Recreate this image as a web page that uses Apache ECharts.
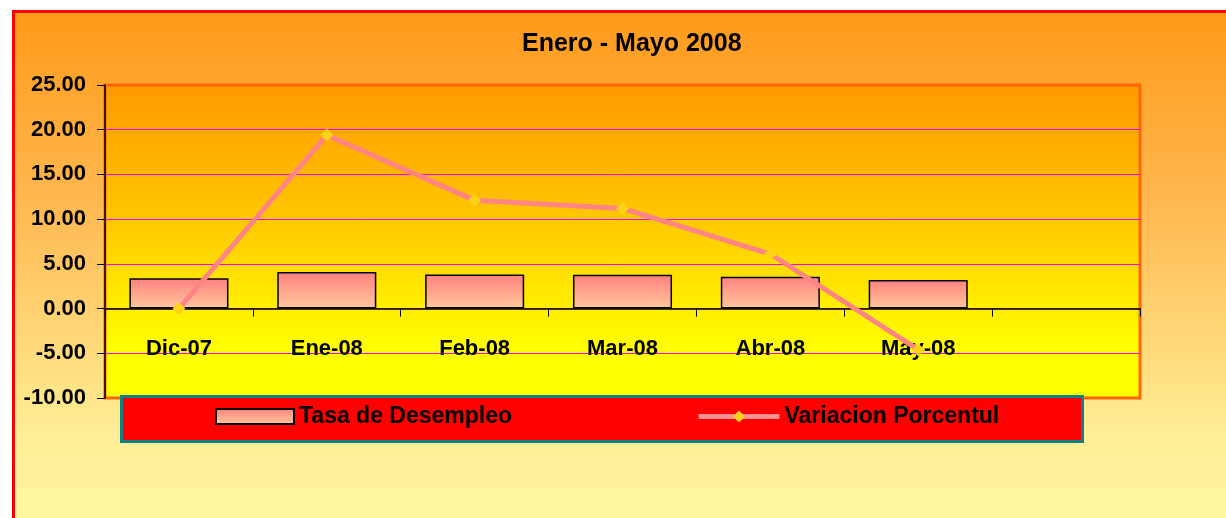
<!DOCTYPE html>
<html>
<head>
<meta charset="utf-8">
<script src="https://cdn.jsdelivr.net/npm/echarts@6/dist/echarts.min.js"></script>
<style>
  html, body { margin: 0; padding: 0; background: #fff; overflow: hidden; }
  #frame {
    position: absolute; left: 12px; top: 10px; width: 1240px; height: 530px;
    border: 3px solid #ff0000;
    background: linear-gradient(to bottom, #ff9a1a 0px, #ffb850 190px, #fff098 430px, #fff8a0 510px);
  }
  #chart { position: absolute; left: 0; top: 0; width: 1226px; height: 518px; }
</style>
</head>
<body>
<div id="frame"></div>
<div id="chart"></div>
<script>
// datos
var categorias = ["Dic-07", "Ene-08", "Feb-08", "Mar-08", "Abr-08", "May-08", ""];
var tasaDesempleo = [3.4, 4.1, 3.8, 3.77, 3.57, 3.2];
var variacionPorcentual = [0, 19.4, 12.1, 11.2, 6.1, -4.6];
var ejeY = { min: -10, max: 25, step: 5 };

var FONT = "'Liberation Sans', Arial, sans-serif";

var chart = echarts.init(document.getElementById("chart"));

var option = {
  backgroundColor: "transparent",
  animation: false,
  title: {
    text: "Enero - Mayo 2008",
    left: 517,
    top: 27,
    textStyle: { fontFamily: FONT, fontWeight: "bold", fontSize: 25, color: "#000" }
  },
  grid: {
    left: 105,
    top: 85,
    right: 86,
    bottom: 120,
    show: true,
    borderColor: "#ff6600",
    borderWidth: 3,
    backgroundColor: {
      type: "linear", x: 0, y: 0, x2: 0, y2: 1,
      colorStops: [
        { offset: 0, color: "#ff9900" },
        { offset: 0.4, color: "#ffc400" },
        { offset: 0.72, color: "#fff000" },
        { offset: 0.85, color: "#ffff00" },
        { offset: 1, color: "#ffff00" }
      ]
    }
  },
  // caja de la leyenda
  graphic: [
    {
      type: "rect",
      z: 3,
      shape: { x: 121.5, y: 396.5, width: 961, height: 45 },
      style: { fill: "#ff0000", stroke: "#138080", lineWidth: 3 }
    }
  ],
  legend: [
    {
      data: ["Tasa de Desempleo"],
      left: 215,
      top: 405,
      padding: 0,
      icon: "rect",
      itemWidth: 78,
      itemHeight: 15,
      z: 5,
      textStyle: { fontFamily: FONT, fontWeight: "bold", fontSize: 23, color: "#000" }
    },
    {
      data: ["Variacion Porcentul"],
      left: 696,
      top: 405,
      padding: 0,
      itemWidth: 81,
      itemHeight: 15,
      z: 5,
      lineStyle: { width: 5, color: "#ff9090" },
      textStyle: { fontFamily: FONT, fontWeight: "bold", fontSize: 23, color: "#000" }
    }
  ],
  xAxis: {
    type: "category",
    data: categorias,
    boundaryGap: true,
    z: 3,
    axisLine: { onZero: true, lineStyle: { color: "#000", width: 1.5 } },
    axisTick: { show: true, inside: false, length: 8, interval: 0, lineStyle: { color: "#000" } },
    axisLabel: {
      interval: 0,
      margin: -60,
      fontFamily: FONT,
      fontWeight: "bold",
      fontSize: 22,
      color: "#000"
    },
    splitLine: { show: false }
  },
  yAxis: {
    type: "value",
    min: ejeY.min,
    max: ejeY.max,
    interval: ejeY.step,
    axisLine: { show: true, lineStyle: { color: "#000", width: 1.5 } },
    axisTick: { show: true, inside: false, length: 8, lineStyle: { color: "#000" } },
    axisLabel: {
      margin: 19,
      fontFamily: FONT,
      fontWeight: "bold",
      fontSize: 22,
      color: "#000",
      formatter: function (v) { return v.toFixed(2); }
    },
    splitLine: {
      show: true,
      showMinLine: false,
      showMaxLine: false,
      lineStyle: { color: "#ff00ff", width: 1 }
    }
  },
  series: [
    {
      name: "Tasa de Desempleo",
      type: "bar",
      barCategoryGap: "33%",
      data: tasaDesempleo,
      itemStyle: {
        color: {
          type: "linear", x: 0, y: 0, x2: 0, y2: 1,
          colorStops: [
            { offset: 0, color: "#ff8080" },
            { offset: 1, color: "#ffc89a" }
          ]
        },
        borderColor: "#000",
        borderWidth: 1.5
      }
    },
    {
      name: "Variacion Porcentul",
      type: "line",
      data: variacionPorcentual,
      symbol: "diamond",
      symbolSize: 13,
      lineStyle: { color: "#ff8585", width: 5 },
      itemStyle: { color: "#ffd21a", borderWidth: 0 }
    }
  ]
};

chart.setOption(option);
</script>
</body>
</html>
